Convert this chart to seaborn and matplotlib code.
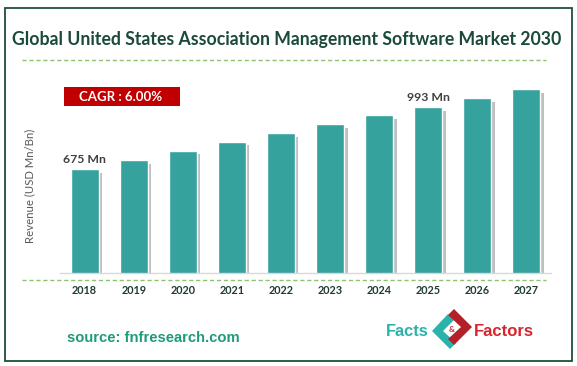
import matplotlib
matplotlib.use("Agg")
import matplotlib.pyplot as plt
import matplotlib.patheffects as pe
from matplotlib.patches import Rectangle, Polygon
import seaborn as sns

# data
years = ["2018", "2019", "2020", "2021", "2022", "2023", "2024", "2025", "2026", "2027"]
revenue = [675, 721, 769, 816, 859, 907, 952, 993, 1039, 1087]
labelled = {"2018": "675 Mn", "2025": "993 Mn"}
title = "Global United States Association Management Software Market 2030"
cagr_text = "CAGR : 6.00%"
source_text = "source: fnfresearch.com"

sns.set_theme(style="white")
plt.rcParams["font.family"] = ["Lato", "DejaVu Sans"]

W, H = 577, 366
fig = plt.figure(figsize=(W / 100, H / 100), dpi=100)

# background layer in pixel coordinates
bg = fig.add_axes([0, 0, 1, 1])
bg.set_xlim(0, W)
bg.set_ylim(H, 0)
bg.axis("off")

bg.add_patch(Rectangle((4.5, 7.5), 567.5, 353.5, fill=False, edgecolor="#1F4E3D", lw=1.3))
bg.text(287, 40, title, ha="center", va="center", fontsize=12.7, fontweight="bold", color="#1B4A3C")
bg.plot([22, 546], [60, 60], ls=(0, (3, 2)), color="#8DC26F", lw=1)
bg.plot([22, 546], [279.5, 279.5], ls=(0, (3, 2)), color="#8DC26F", lw=1)

# CAGR badge
bg.add_patch(Rectangle((64, 87), 116, 19, facecolor="#C00000", edgecolor="none"))
bg.text(121, 97, cagr_text, ha="center", va="center", fontsize=9.5, fontweight="bold", color="white")

# source and logo
bg.text(67, 338, source_text, ha="left", va="center", fontsize=10.6, fontweight="bold",
        color="#1E9B78", family=["Liberation Sans", "DejaVu Sans"])
bg.text(386, 331, "Facts", ha="left", va="center", fontsize=11.8, fontweight="bold",
        color="#2BB3A9", family=["Liberation Sans", "DejaVu Sans"])
bg.text(474, 331, "Factors", ha="left", va="center", fontsize=12, fontweight="bold",
        color="#D7262D", family=["Liberation Sans", "DejaVu Sans"])
cx, cy = 452, 331
bg.add_patch(Polygon([(cx - 4, cy - 17), (cx - 20, cy), (cx - 2, cy + 18), (cx + 4, cy + 12),
                      (cx - 9, cy), (cx + 2, cy - 11)], closed=True, facecolor="#2BB3A9", edgecolor="none"))
bg.add_patch(Polygon([(cx + 2, cy - 22), (cx + 20, cy - 4), (cx + 2, cy + 14), (cx - 4, cy + 8),
                      (cx + 9, cy - 4), (cx - 4, cy - 16)], closed=True, facecolor="#B3202A", edgecolor="none"))
bg.text(cx, cy - 2, "&", ha="center", va="center", fontsize=6, fontweight="bold", color="#D7262D")

# bar chart
ax = fig.add_axes([60 / W, 1 - 273 / H, 491 / W, 193 / H])
ax.patch.set_alpha(0)
sns.barplot(x=years, y=revenue, color="#35A29E", saturation=1, width=0.57, ax=ax)
for bar in ax.patches:
    bar.set_path_effects([pe.SimplePatchShadow(offset=(2.5, -2.5), shadow_rgbFace="#808080", alpha=0.5),
                          pe.Normal()])

for i, (yr, val) in enumerate(zip(years, revenue)):
    if yr in labelled:
        ax.text(i, val + 20, labelled[yr], ha="center", va="bottom", fontsize=8.8,
                fontweight="bold", color="#404040")

ax.set_ylim(139, 1134)
ax.set_xlim(-0.5, len(years) - 0.5)
ax.set_yticks([])
ax.set_xlabel("")
ax.set_ylabel("Revenue (USD Mn/Bn)", fontsize=8.2, color="#595959")
ax.yaxis.set_label_coords(-0.051, 0.45)
ax.tick_params(axis="x", length=0, pad=9, labelsize=7.8, labelcolor="#1F3B33")
for lab in ax.get_xticklabels():
    lab.set_fontweight("bold")
for side in ["top", "right", "left"]:
    ax.spines[side].set_visible(False)
ax.spines["bottom"].set_color("#D9D9D9")
ax.spines["bottom"].set_linewidth(1)

fig.savefig("out.png", dpi=100)
